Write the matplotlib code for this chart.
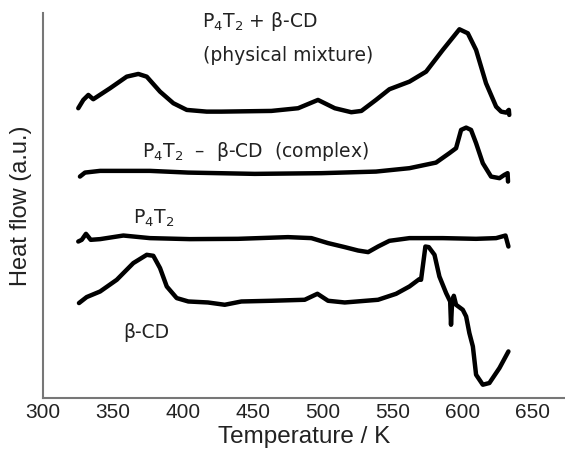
import numpy as np
import matplotlib
matplotlib.use('Agg')
import matplotlib.pyplot as plt

plt.rcParams['font.family'] = ['Liberation Sans', 'DejaVu Sans']
plt.rcParams['mathtext.fontset'] = 'dejavusans'

# DSC traces (temperature in K, heat flow in arbitrary units)
mix_T = [325.4, 329.0, 332.6, 336.1, 348.1, 360.0, 368.3, 374.3, 383.8, 393.3, 402.9,
         417.1, 427.6, 463.3, 482.4, 496.6, 508.6, 520.4, 527.6, 538.0, 547.6, 561.9,
         573.8, 585.7, 597.6, 603.6, 609.5, 616.6, 623.8, 627.4, 631.0, 632.9, 633.2]
mix_hf = [289.7, 298.0, 303.0, 298.7, 309.7, 321.3, 324.0, 321.3, 306.3, 294.7, 288.0,
          286.3, 286.3, 287.0, 289.7, 298.0, 289.7, 285.7, 287.0, 298.0, 308.7, 316.3,
          326.3, 348.0, 368.7, 364.7, 348.0, 314.7, 291.3, 286.3, 285.3, 288.0, 283.0]

cplx_T = [326.6, 330.2, 341.0, 376.6, 403.8, 451.4, 499.0, 538.0, 561.9, 580.9, 590.4,
          595.2, 598.8, 602.4, 605.9, 609.5, 614.3, 620.2, 626.2, 629.7, 632.0, 632.3]
cplx_hf = [221.3, 225.3, 227.0, 227.0, 225.3, 224.0, 224.7, 226.3, 229.7, 235.3, 244.7,
           249.7, 268.0, 270.3, 268.0, 254.7, 234.7, 221.3, 219.7, 223.0, 224.7, 216.3]

p4t2_T = [325.4, 327.9, 330.9, 334.3, 341.0, 357.6, 376.6, 405.0, 439.5, 475.2, 491.9,
          503.8, 515.7, 525.2, 532.4, 539.5, 547.6, 561.9, 585.7, 609.5, 623.8, 630.5, 632.6]
p4t2_hf = [156.3, 158.0, 164.0, 158.0, 158.7, 162.3, 159.7, 158.7, 159.0, 160.7, 159.7,
           154.7, 150.7, 147.3, 145.7, 151.3, 157.0, 159.7, 159.7, 159.0, 159.7, 162.3, 151.3]

bcd_T = [325.9, 331.4, 341.0, 352.9, 364.7, 374.3, 379.0, 383.8, 388.6, 395.7, 404.0,
         418.0, 430.0, 441.9, 463.3, 487.1, 496.2, 503.8, 515.7, 539.5, 552.4, 561.9,
         569.0, 570.2, 573.3, 575.7, 579.8, 583.3, 588.1, 591.0, 591.6, 592.4, 593.6,
         595.2, 600.0, 602.4, 604.7, 607.2, 609.5, 614.3, 619.0, 626.2, 632.6]
bcd_hf = [94.7, 100.7, 106.3, 118.0, 134.7, 143.0, 142.0, 129.7, 111.3, 99.7, 96.3,
          95.3, 93.0, 96.3, 97.0, 98.0, 104.0, 97.0, 95.3, 98.0, 104.0, 111.3,
          118.7, 118.0, 151.3, 150.7, 143.0, 121.3, 104.7, 96.3, 73.0, 96.3, 102.0,
          93.0, 88.0, 81.3, 64.7, 51.3, 23.0, 13.0, 14.7, 29.7, 46.3]

xticks = [300, 350, 400, 450, 500, 550, 600, 650]

fig = plt.figure(figsize=(5.65, 4.51), dpi=100)
ax = fig.add_axes([42.7/565, 53.3/451, 1 - 42.7/565, (397.7-13)/451])

line_kw = dict(color='black', lw=3.2, solid_joinstyle='round', solid_capstyle='round')
for T, hf in [(mix_T, mix_hf), (cplx_T, cplx_hf), (p4t2_T, p4t2_hf), (bcd_T, bcd_hf)]:
    ax.plot(T, hf, **line_kw)

lab_kw = dict(fontsize=13.5, va='baseline', color='#222222', family='DejaVu Sans')
ax.text(414.0, 371.0, r'P$_4$T$_2$ + β-CD', **lab_kw)
ax.text(414.5, 337.0, '(physical mixture)', **lab_kw)
ax.text(370.7, 241.3, r'P$_4$T$_2$  –  β-CD  (complex)', **lab_kw)
ax.text(364.7, 173.7, r'P$_4$T$_2$', **lab_kw)
ax.text(357.6, 59.7, 'β-CD', **lab_kw)

ax.set_xlim(300, 673)
ax.set_ylim(0, 385)
ax.set_xticks(xticks)
ax.set_yticks([])
ax.tick_params(axis='x', length=0, labelsize=15, pad=4, labelcolor='#222222')

for s in ['top', 'right']:
    ax.spines[s].set_visible(False)
for s in ['left', 'bottom']:
    ax.spines[s].set_color('#777777')
    ax.spines[s].set_linewidth(1.5)

ax.set_xlabel('Temperature / K', fontsize=17.5, labelpad=3, color='#222222')
ax.set_ylabel('Heat flow (a.u.)', fontsize=17, labelpad=8, color='#222222')

fig.savefig('out.png', dpi=100)
